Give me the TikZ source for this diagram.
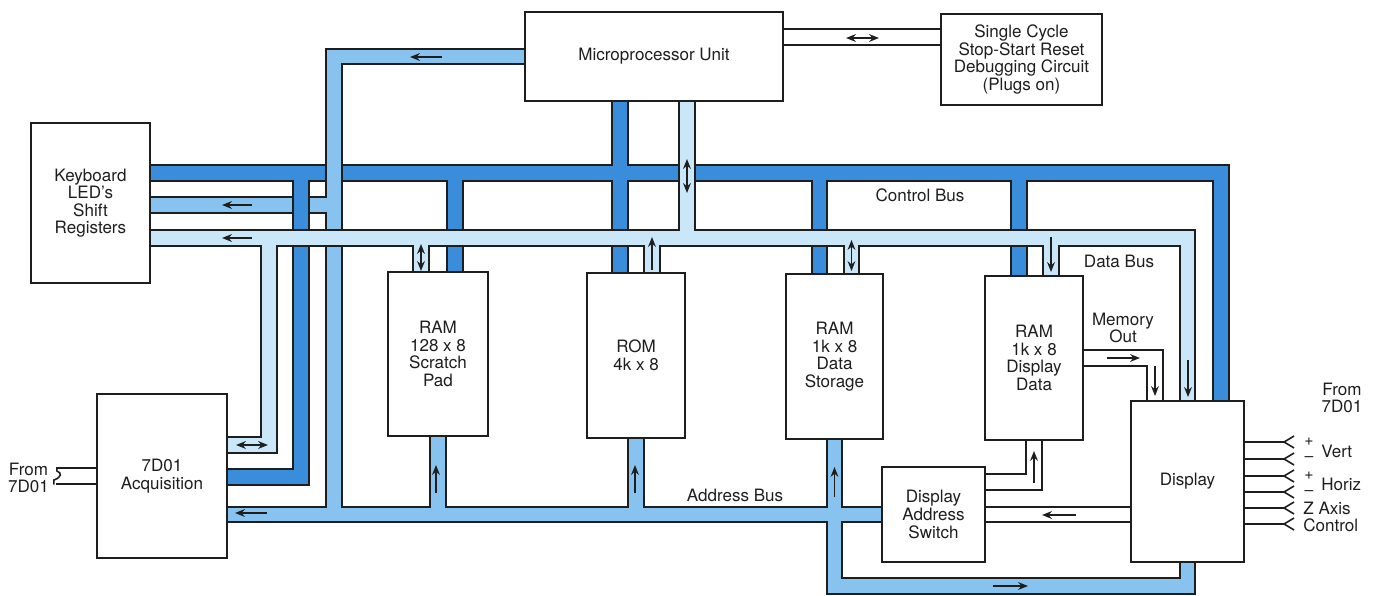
\documentclass[tikz,border=0pt]{standalone}
\usepackage{fontspec}
\setmainfont{TeX Gyre Heros}
\usetikzlibrary{arrows.meta, backgrounds}

\definecolor{ctlblue}{HTML}{3A8DDA}
\definecolor{adrblue}{HTML}{88C2EE}
\definecolor{datblue}{HTML}{C9E7F9}
\definecolor{ink}{HTML}{1E1E1E}

\begin{document}
\begin{tikzpicture}[
  x=0.02cm, y=-0.02cm,
  font=\fontsize{9.7}{10}\selectfont,
  blk/.style 2 args={rectangle, draw=ink, line width=1.2pt, fill=white, minimum width=#1*0.02cm, minimum height=#2*0.02cm, inner sep=0pt, align=center, text=ink},
  lbl/.style={inner sep=0pt, align=center, text=ink},
  pipeout/.style={draw=ink, line width=9.8pt},
  pipefill/.style={draw=#1, line width=7.6pt},
  wpipe/.style={draw=ink, line width=1.1pt, double=white, double distance=7.6pt},
  >={Stealth[length=5.6pt, width=4.4pt]},
  arr/.style={->, draw=ink, line width=0.85pt},
  darr/.style={<->, draw=ink, line width=0.85pt},
  wire/.style={draw=ink, line width=0.9pt},
]
  \useasboundingbox (0,0) rectangle (1375,595);

  % ── Blocks ─────────────────────────────────
  \node[blk={119}{160}] (kbd) at (90.5,203) {Keyboard\\LED's\\Shift\\Registers};
  \node[blk={130}{164}] (acq) at (162,476) {7D01\\Acquisition};
  \node[blk={258}{89}] (mpu) at (654,56.5) {Microprocessor Unit};
  \node[blk={161}{91}] (sc) at (1021.5,59.5) {Single Cycle\\Stop-Start Reset\\Debugging Circuit\\(Plugs on)};
  \node[blk={100}{164}] (ramA) at (438,354) {RAM\\128 x 8\\Scratch\\Pad};
  \node[blk={98}{165}] (rom) at (636,355.5) {ROM\\4k x 8};
  \node[blk={97}{165}] (ramB) at (834.5,356.5) {RAM\\1k x 8\\Data\\Storage};
  \node[blk={98}{164}] (ramC) at (1034,358) {RAM\\1k x 8\\Display\\Data};
  \node[blk={103}{95}] (das) at (933.5,514.5) {Display\\Address\\Switch};
  \node[blk={113}{161}] (disp) at (1187.5,481.5) {Display};

  % ── Bus levels and taps ────────────────────
  \coordinate (yCtl) at (0,173);
  \coordinate (yKbd) at (0,205);
  \coordinate (yDat) at (0,238);
  \coordinate (yDatL) at (0,445);
  \coordinate (yCtlL) at (0,477);
  \coordinate (yLoop) at (0,586);
  \coordinate (xDL) at (269,0);
  \coordinate (xCL) at (301,0);
  \coordinate (xJ) at (315,0);
  \coordinate (xM) at (334,0);
  \coordinate (ramA-d) at ([shift={(-17,0)}]ramA.north);
  \coordinate (ramA-c) at ([shift={(17,0)}]ramA.north);
  \coordinate (rom-c) at ([shift={(-16,0)}]rom.north);
  \coordinate (rom-d) at ([shift={(16,0)}]rom.north);
  \coordinate (ramB-c) at ([shift={(-15,0)}]ramB.north);
  \coordinate (ramB-d) at ([shift={(17,0)}]ramB.north);
  \coordinate (ramC-c) at ([shift={(-15,0)}]ramC.north);
  \coordinate (ramC-d) at ([shift={(17,0)}]ramC.north);
  \coordinate (mpu-c) at ([shift={(-34,0)}]mpu.south);
  \coordinate (mpu-d) at ([shift={(33,0)}]mpu.south);
  \coordinate (mpu-s) at ([shift={(0,26)}]mpu.north east);
  \coordinate (disp-m) at ([shift={(-32.5,0)}]disp.north);
  \coordinate (disp-c) at ([shift={(33.5,0)}]disp.north);
  \coordinate (das-o) at ([shift={(0,16)}]das.north east);
  \coordinate (in7) at ([shift={(-40,0)}]acq.west);

  \def\kbdpipe{(kbd.east |- yKbd) -- (xM |- yKbd)}
  \def\ctlbus{(kbd.east |- yCtl) -| (disp-c)
    (acq.east |- yCtlL) -| (xCL |- yCtl)
    (ramA-c) -- (ramA-c |- yCtl)
    (mpu-c) -- (rom-c)
    (ramB-c) -- (ramB-c |- yCtl)
    (ramC-c) -- (ramC-c |- yCtl)}
  \def\adrbus{(mpu.west) -| (xM |- das.west)
    (acq.east |- das.west) -- (das.west)
    (ramA.south) -- (ramA.south |- das.west)
    (rom.south) -- (rom.south |- das.west)
    (ramB.south) |- (disp.south |- yLoop) -- (disp.south)}
  \def\datbus{(kbd.east |- yDat) -| (disp.north)
    (acq.east |- yDatL) -| (xDL |- yDat)
    (ramA-d) -- (ramA-d |- yDat)
    (rom-d) -- (rom-d |- yDat)
    (ramB-d) -- (ramB-d |- yDat)
    (ramC-d) -- (ramC-d |- yDat)
    (mpu-d) -- (mpu-d |- yDat)}

  % ── Buses ──────────────────────────────────
  \begin{scope}[on background layer]
    \draw[pipeout] \kbdpipe;
    \draw[pipefill=adrblue] \kbdpipe;
    \draw[pipeout] \ctlbus;
    \draw[pipefill=ctlblue] \ctlbus;
    \draw[pipeout] \adrbus;
    \draw[pipefill=adrblue] \adrbus;
    \draw[pipefill=adrblue] (xJ |- yKbd) -- (xM |- yKbd);
    \draw[pipeout] \datbus;
    \draw[pipefill=datblue] \datbus;
    % plain links
    \draw[wpipe] (mpu-s) -- (mpu-s -| sc.west);
    \draw[wpipe] (ramC.east) -| (disp-m);
    \draw[wpipe] (das-o) -| (ramC.south);
    \draw[wpipe] (disp.west |- das.east) -- (das.east);
    \draw[wpipe] (in7) -- (acq.west);
  \end{scope}
  \draw[wire, shift={(in7)}] (1,-8.5) -- (1,-5) .. controls (6,-3) and (6,1) .. (-2,4) -- (-2,8.5);

  % ── Flow arrows ────────────────────────────
  \draw[arr] (442,57) -- (410,57);
  \draw[arr] (252,205) -- (222,205);
  \draw[arr] (252,238) -- (222,238);
  \draw[arr] (267,513) -- (235,513);
  \draw[darr] (236,445) -- (268,445);
  \draw[darr] (687,159) -- (687,193);
  \draw[darr] (421,244) -- (421,271);
  \draw[arr] (652,270) -- (652,237);
  \draw[darr] (851.5,240) -- (851.5,271);
  \draw[arr] (1051,237) -- (1051,272);
  \draw[arr] (1188,360) -- (1188,397);
  \draw[arr] (436,493) -- (436,465);
  \draw[arr] (635,493) -- (635,465);
  \draw[arr] (834.5,497) -- (834.5,467);
  \draw[arr] (1107,358) -- (1140,358);
  \draw[arr] (1155,366) -- (1155,396);
  \draw[arr] (1034,483) -- (1034,451);
  \draw[arr] (1076,515) -- (1042,515);
  \draw[arr] (993,586) -- (1028,586);
  \draw[darr] (846,38) -- (879,38);

  % ── Display outputs ────────────────────────
  \foreach \dy in {-39.5,-22.5,-5.5,10.5,26.5,42.5}
    \draw[wire] ([shift={(0,\dy)}]disp.east) -- ++(39,0) -- ++(10,-6) ++(-10,6) -- ++(10,6);

  % ── Labels ─────────────────────────────────
  \node[lbl] (ctllbl) at (920,195) {Control Bus};
  \node[lbl] (datlbl) at (1119,261) {Data Bus};
  \node[lbl] (adrlbl) at (735,495) {Address Bus};
  \node[lbl] (memlbl) at (1123,328) {Memory\\Out};
  \node[lbl] (inlbl) at (28.5,478) {From\\7D01};
  \node[lbl] (extlbl) at (1342,398) {From\\7D01};
  \node[lbl, font=\fontsize{9}{9}\selectfont] (vp) at (1309,442) {+};
  \node[lbl, font=\fontsize{9}{9}\selectfont] (vm) at (1309,459) {–};
  \node[lbl, anchor=west] (vert) at (1321,451) {Vert};
  \node[lbl, font=\fontsize{9}{9}\selectfont] (hp) at (1309,476) {+};
  \node[lbl, font=\fontsize{9}{9}\selectfont] (hm) at (1309,493) {–};
  \node[lbl, anchor=west] (horiz) at (1321,484) {Horiz};
  \node[lbl, anchor=west] (zax) at (1303,508) {Z Axis};
  \node[lbl, anchor=west] (zctl) at (1303,525) {Control};

\end{tikzpicture}
\end{document}
